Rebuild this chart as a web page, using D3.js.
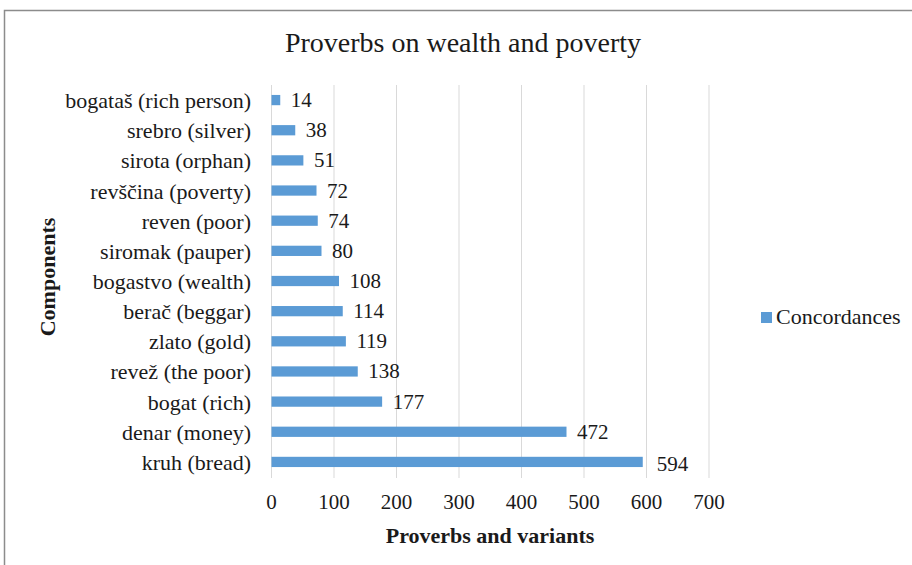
<!DOCTYPE html>
<html><head><meta charset="utf-8">
<script src="https://cdn.jsdelivr.net/npm/d3@7"></script>
<style>body{margin:0;background:#fff}svg{display:block}</style>
</head><body>
<script>
const categories = ["bogataš (rich person)","srebro (silver)","sirota (orphan)","revščina (poverty)","reven (poor)","siromak (pauper)","bogastvo (wealth)","berač (beggar)","zlato (gold)","revež (the poor)","bogat (rich)","denar (money)","kruh (bread)"];
const values = [14,38,51,72,74,80,108,114,119,138,177,472,594];
const xTicks = [0,100,200,300,400,500,600,700];
const seriesName = "Concordances";
const title = "Proverbs on wealth and poverty";
const xTitle = "Proverbs and variants";
const yTitle = "Components";

const W = 912, H = 565;
const font = "'Liberation Serif','Times New Roman',serif";
const ink = "#1a1a1a";
const svg = d3.select("body").append("svg").attr("width", W).attr("height", H);
svg.append("rect").attr("x",4.5).attr("y",10.5).attr("width",W+10).attr("height",H+10)
  .attr("fill","#fff").attr("stroke","#8c8c8c").attr("stroke-width",1.5);

const x = d3.scaleLinear().domain([0,700]).range([271.5,709]);
const y = d3.scaleBand().domain(categories).range([85,477]).paddingInner(0.66).paddingOuter(0.33);

svg.append("g").selectAll("line").data(xTicks).join("line")
  .attr("x1",d=>x(d)).attr("x2",d=>x(d)).attr("y1",85).attr("y2",478)
  .attr("stroke","#d9d9d9").attr("stroke-width",1);

svg.append("g").selectAll("rect").data(values).join("rect")
  .attr("x",x(0)).attr("y",(d,i)=>y(categories[i])).attr("height",y.bandwidth())
  .attr("width",d=>x(d)-x(0)).attr("fill","#5b9bd5");

const last = values.length-1;
svg.append("g").selectAll("text").data(values).join("text")
  .attr("x",(d,i)=>x(d)+(i===last?14:10.5))
  .attr("y",(d,i)=>y(categories[i])+y.bandwidth()/2+7+(i===last?2.5:0))
  .attr("font-family",font).attr("font-size",21).attr("fill",ink).text(d=>d);

svg.append("g").selectAll("text").data(categories).join("text")
  .attr("x",251).attr("y",d=>y(d)+y.bandwidth()/2+8).attr("text-anchor","end")
  .attr("font-family",font).attr("font-size",22).attr("fill",ink).text(d=>d);

svg.append("g").selectAll("text").data(xTicks).join("text")
  .attr("x",d=>x(d)).attr("y",509).attr("text-anchor","middle")
  .attr("font-family",font).attr("font-size",21).attr("fill",ink).text(d=>d);

svg.append("text").attr("x",463).attr("y",52).attr("text-anchor","middle")
  .attr("font-family",font).attr("font-size",28).attr("fill",ink).text(title);
svg.append("text").attr("x",490).attr("y",543).attr("text-anchor","middle")
  .attr("font-family",font).attr("font-size",22).attr("font-weight","bold").attr("fill",ink).text(xTitle);
svg.append("text").attr("transform","translate(55,277) rotate(-90)").attr("text-anchor","middle")
  .attr("font-family",font).attr("font-size",22).attr("font-weight","bold").attr("fill",ink).text(yTitle);

svg.append("rect").attr("x",761).attr("y",312).attr("width",11).attr("height",11).attr("fill","#5b9bd5");
svg.append("text").attr("x",776).attr("y",324).attr("font-family",font).attr("font-size",22).attr("fill",ink).text(seriesName);
</script>
</body></html>
